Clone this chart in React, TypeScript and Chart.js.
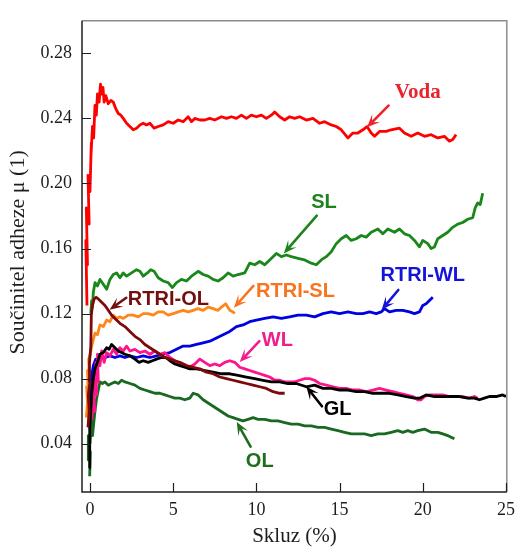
import { useEffect, useRef } from "react";
import { Chart, registerables } from "chart.js";

Chart.register(...registerables);

const xTickValues = [0, 5, 10, 15, 20, 25];
const yTickValues = [0.04, 0.08, 0.12, 0.16, 0.2, 0.24, 0.28];
const xTitle = "Skluz (%)";
const yTitle = "Součinitel adheze μ (1)";

const vodaData: number[][] = [
  [-0.18, 0.125], [-0.25, 0.165], [-0.15, 0.15], [-0.22, 0.185], [-0.05, 0.175], [-0.12, 0.205], [0.0, 0.195],
  [0.08, 0.225], [0.05, 0.215], [0.15, 0.235], [0.22, 0.228], [0.3, 0.248], [0.38, 0.242], [0.45, 0.255],
  [0.55, 0.25], [0.63, 0.261], [0.7, 0.255], [0.78, 0.259], [0.85, 0.25], [0.95, 0.254], [1.1, 0.249],
  [1.25, 0.251], [1.4, 0.25], [1.55, 0.246], [1.7, 0.243], [1.85, 0.242], [2.0, 0.24], [2.2, 0.237],
  [2.4, 0.235], [2.6, 0.233], [2.8, 0.234], [3.0, 0.236], [3.2, 0.237], [3.4, 0.236], [3.6, 0.237],
  [3.85, 0.234], [4.1, 0.235], [4.4, 0.236], [4.7, 0.238], [5.0, 0.237], [5.3, 0.239], [5.6, 0.238],
  [5.9, 0.241], [6.1, 0.238], [6.3, 0.24], [6.6, 0.239], [6.9, 0.239], [7.2, 0.24], [7.5, 0.239],
  [7.9, 0.241], [8.2, 0.24], [8.5, 0.241], [8.8, 0.24], [9.1, 0.242], [9.4, 0.24], [9.7, 0.242],
  [10.0, 0.241], [10.3, 0.242], [10.6, 0.24], [10.9, 0.242], [11.1, 0.244], [11.4, 0.241], [11.7, 0.239],
  [12.0, 0.241], [12.3, 0.24], [12.6, 0.241], [13.0, 0.239], [13.4, 0.24], [13.8, 0.237], [14.1, 0.238],
  [14.5, 0.236], [14.8, 0.235], [15.1, 0.233], [15.5, 0.228], [15.8, 0.231], [16.1, 0.231], [16.4, 0.233],
  [16.65, 0.235], [16.9, 0.231], [17.1, 0.229], [17.4, 0.232], [17.8, 0.232], [18.1, 0.233], [18.6, 0.234],
  [18.9, 0.231], [19.3, 0.229], [19.7, 0.231], [20.1, 0.229], [20.5, 0.23], [20.9, 0.228], [21.3, 0.229],
  [21.6, 0.226], [21.8, 0.227], [22.0, 0.23],
];

const slData: number[][] = [
  [0.05, 0.12], [0.1, 0.128], [0.15, 0.124], [0.2, 0.133], [0.3, 0.139], [0.45, 0.137], [0.6, 0.141],
  [0.8, 0.138], [1.0, 0.135], [1.2, 0.141], [1.4, 0.144], [1.6, 0.145], [1.8, 0.142], [2.0, 0.145],
  [2.2, 0.143], [2.5, 0.145], [2.8, 0.147], [3.0, 0.146], [3.2, 0.143], [3.45, 0.145], [3.65, 0.147],
  [3.85, 0.146], [4.1, 0.142], [4.4, 0.14], [4.7, 0.139], [4.95, 0.136], [5.2, 0.139], [5.5, 0.141],
  [5.8, 0.14], [6.1, 0.143], [6.5, 0.146], [6.8, 0.144], [7.1, 0.143], [7.4, 0.141], [7.7, 0.14],
  [8.0, 0.142], [8.3, 0.145], [8.6, 0.143], [8.9, 0.144], [9.3, 0.145], [9.6, 0.151], [9.9, 0.15],
  [10.2, 0.152], [10.5, 0.15], [10.8, 0.153], [11.2, 0.157], [11.5, 0.155], [11.8, 0.156], [12.1, 0.155],
  [12.5, 0.154], [12.9, 0.153], [13.3, 0.151], [13.6, 0.15], [13.9, 0.153], [14.2, 0.155], [14.5, 0.158],
  [14.8, 0.163], [15.1, 0.166], [15.4, 0.168], [15.7, 0.165], [16.0, 0.166], [16.3, 0.168], [16.6, 0.167],
  [16.9, 0.17], [17.3, 0.172], [17.6, 0.169], [17.9, 0.172], [18.3, 0.17], [18.6, 0.172], [18.9, 0.169],
  [19.2, 0.168], [19.5, 0.165], [19.8, 0.161], [20.0, 0.165], [20.3, 0.163], [20.5, 0.16], [20.7, 0.161],
  [20.9, 0.166], [21.2, 0.168], [21.5, 0.17], [21.8, 0.173], [22.1, 0.175], [22.4, 0.176], [22.7, 0.178],
  [23.0, 0.179], [23.15, 0.185], [23.3, 0.188], [23.45, 0.187], [23.6, 0.194],
];

const rtriSlData: number[][] = [
  [-0.22, 0.056], [-0.15, 0.065], [-0.2, 0.075], [-0.1, 0.07], [-0.15, 0.085], [-0.05, 0.082], [-0.08, 0.092],
  [0.02, 0.095], [0.1, 0.1], [0.2, 0.104], [0.3, 0.108], [0.45, 0.107], [0.6, 0.113], [0.8, 0.112],
  [1.0, 0.116], [1.2, 0.115], [1.4, 0.119], [1.6, 0.117], [1.8, 0.118], [2.0, 0.117], [2.3, 0.119],
  [2.6, 0.119], [2.9, 0.118], [3.2, 0.12], [3.5, 0.12], [3.8, 0.119], [4.1, 0.121], [4.4, 0.121],
  [4.7, 0.119], [5.0, 0.12], [5.3, 0.121], [5.6, 0.122], [5.9, 0.121], [6.2, 0.122], [6.5, 0.123],
  [6.8, 0.122], [7.1, 0.124], [7.4, 0.123], [7.7, 0.122], [7.9, 0.124], [8.15, 0.126], [8.4, 0.122],
  [8.6, 0.121], [8.7, 0.12],
];

const rtriWlData: number[][] = [
  [-0.05, 0.055], [0.0, 0.07], [0.1, 0.082], [0.2, 0.088], [0.35, 0.092], [0.6, 0.092], [0.9, 0.093],
  [1.2, 0.094], [1.5, 0.093], [1.8, 0.094], [2.1, 0.093], [2.4, 0.094], [2.8, 0.093], [3.2, 0.094],
  [3.6, 0.093], [4.0, 0.094], [4.4, 0.095], [4.8, 0.096], [5.2, 0.098], [5.6, 0.1], [6.0, 0.1],
  [6.4, 0.101], [6.8, 0.102], [7.2, 0.103], [7.6, 0.105], [8.0, 0.107], [8.4, 0.109], [8.8, 0.112],
  [9.2, 0.113], [9.6, 0.115], [10.0, 0.116], [10.5, 0.117], [11.0, 0.118], [11.5, 0.117], [12.0, 0.118],
  [12.5, 0.119], [13.0, 0.119], [13.5, 0.118], [14.0, 0.12], [14.5, 0.121], [15.0, 0.12], [15.5, 0.121],
  [16.0, 0.12], [16.4, 0.12], [16.8, 0.121], [17.2, 0.12], [17.5, 0.121], [17.7, 0.123], [18.0, 0.121],
  [18.4, 0.122], [18.8, 0.122], [19.2, 0.121], [19.5, 0.12], [19.8, 0.121], [20.0, 0.125], [20.2, 0.126],
  [20.4, 0.128], [20.6, 0.13],
];

const rtriOlData: number[][] = [
  [-0.12, 0.05], [-0.05, 0.06], [-0.1, 0.07], [0.0, 0.078], [-0.03, 0.09], [0.05, 0.1], [0.08, 0.119],
  [0.15, 0.125], [0.25, 0.129], [0.37, 0.13], [0.5, 0.129], [0.7, 0.127], [0.9, 0.125], [1.1, 0.122],
  [1.3, 0.119], [1.5, 0.117], [1.8, 0.114], [2.1, 0.112], [2.4, 0.109], [2.7, 0.106], [3.0, 0.104],
  [3.3, 0.101], [3.6, 0.099], [3.9, 0.097], [4.2, 0.095], [4.5, 0.093], [4.8, 0.092], [5.1, 0.091],
  [5.4, 0.09], [5.8, 0.088], [6.2, 0.087], [6.6, 0.086], [7.0, 0.084], [7.4, 0.083], [7.8, 0.081],
  [8.2, 0.08], [8.6, 0.079], [9.0, 0.078], [9.4, 0.077], [9.8, 0.076], [10.2, 0.075], [10.6, 0.074],
  [11.0, 0.072], [11.4, 0.071], [11.7, 0.071],
];

const wlData: number[][] = [
  [0.1, 0.055], [0.2, 0.065], [0.15, 0.072], [0.3, 0.06], [0.25, 0.082], [0.4, 0.07], [0.35, 0.09],
  [0.5, 0.078], [0.45, 0.095], [0.6, 0.088], [0.7, 0.097], [0.85, 0.09], [1.0, 0.096], [1.2, 0.094],
  [1.4, 0.098], [1.6, 0.095], [1.8, 0.099], [2.0, 0.097], [2.2, 0.1], [2.4, 0.097], [2.7, 0.098],
  [3.0, 0.096], [3.3, 0.097], [3.6, 0.095], [3.9, 0.097], [4.2, 0.095], [4.5, 0.096], [4.8, 0.093],
  [5.1, 0.091], [5.4, 0.089], [5.7, 0.088], [6.0, 0.087], [6.3, 0.089], [6.6, 0.092], [6.9, 0.09],
  [7.2, 0.088], [7.5, 0.089], [7.8, 0.088], [8.1, 0.09], [8.4, 0.091], [8.7, 0.09], [9.0, 0.087],
  [9.3, 0.086], [9.6, 0.085], [9.9, 0.084], [10.2, 0.083], [10.5, 0.082], [10.8, 0.081], [11.1, 0.079],
  [11.4, 0.079], [11.7, 0.078], [12.0, 0.078], [12.3, 0.078], [12.6, 0.079], [12.9, 0.08], [13.2, 0.08],
  [13.5, 0.079], [13.8, 0.077], [14.2, 0.076], [14.6, 0.075], [15.0, 0.074], [15.4, 0.074], [15.8, 0.073],
  [16.2, 0.073], [16.6, 0.072], [17.0, 0.073], [17.4, 0.074], [17.8, 0.073], [18.2, 0.072], [18.6, 0.071],
  [19.0, 0.07], [19.4, 0.069], [19.7, 0.067], [19.9, 0.067], [20.1, 0.069], [20.4, 0.07], [20.8, 0.07],
  [21.2, 0.07], [21.6, 0.069], [22.0, 0.069], [22.4, 0.069], [22.8, 0.068], [23.1, 0.069], [23.3, 0.068],
];

const glData: number[][] = [
  [-0.05, 0.025], [0.0, 0.04], [-0.03, 0.05], [0.05, 0.06], [0.1, 0.07], [0.2, 0.08], [0.3, 0.086],
  [0.45, 0.09], [0.6, 0.095], [0.8, 0.096], [1.0, 0.099], [1.15, 0.098], [1.3, 0.101], [1.5, 0.099],
  [1.7, 0.097], [1.9, 0.096], [2.1, 0.095], [2.4, 0.094], [2.7, 0.092], [2.95, 0.09], [3.2, 0.091],
  [3.5, 0.09], [3.75, 0.091], [4.0, 0.092], [4.3, 0.093], [4.55, 0.093], [4.8, 0.091], [5.1, 0.089],
  [5.4, 0.088], [5.7, 0.087], [6.0, 0.086], [6.4, 0.086], [6.9, 0.085], [7.4, 0.084], [7.9, 0.083],
  [8.4, 0.083], [8.9, 0.082], [9.4, 0.081], [9.9, 0.08], [10.4, 0.079], [10.9, 0.078], [11.4, 0.078],
  [11.9, 0.077], [12.4, 0.077], [13.0, 0.075], [13.5, 0.076], [14.0, 0.074], [14.5, 0.074], [15.0, 0.073],
  [15.5, 0.073], [16.0, 0.072], [16.5, 0.072], [17.0, 0.071], [17.5, 0.071], [18.0, 0.071], [18.5, 0.07],
  [19.0, 0.069], [19.5, 0.068], [19.8, 0.068], [20.2, 0.07], [20.7, 0.069], [21.2, 0.069], [21.7, 0.069],
  [22.2, 0.069], [22.7, 0.068], [23.1, 0.068], [23.4, 0.067], [23.7, 0.068], [24.0, 0.069], [24.4, 0.069],
  [24.8, 0.07], [25.0, 0.069],
];

const olData: number[][] = [
  [-0.02, 0.02], [0.02, 0.035], [-0.08, 0.03], [-0.1, 0.045], [0.0, 0.04], [0.05, 0.048], [-0.05, 0.052],
  [0.1, 0.05], [0.2, 0.058], [0.15, 0.045], [0.3, 0.06], [0.4, 0.068], [0.5, 0.073], [0.6, 0.078],
  [0.75, 0.077], [0.9, 0.078], [1.1, 0.076], [1.3, 0.077], [1.5, 0.078], [1.7, 0.077], [1.9, 0.079],
  [2.1, 0.078], [2.4, 0.077], [2.7, 0.076], [3.0, 0.074], [3.3, 0.073], [3.6, 0.072], [3.9, 0.071],
  [4.2, 0.071], [4.5, 0.07], [4.8, 0.069], [5.1, 0.068], [5.4, 0.068], [5.7, 0.067], [6.0, 0.068],
  [6.2, 0.071], [6.5, 0.07], [6.8, 0.067], [7.1, 0.065], [7.4, 0.063], [7.7, 0.061], [8.0, 0.059],
  [8.3, 0.057], [8.6, 0.056], [8.9, 0.055], [9.2, 0.054], [9.5, 0.055], [9.8, 0.056], [10.1, 0.055],
  [10.5, 0.055], [10.9, 0.054], [11.3, 0.054], [11.7, 0.053], [12.1, 0.052], [12.5, 0.052], [12.9, 0.051],
  [13.3, 0.051], [13.7, 0.05], [14.1, 0.05], [14.5, 0.049], [14.9, 0.048], [15.3, 0.047], [15.7, 0.046],
  [16.1, 0.046], [16.5, 0.046], [16.9, 0.045], [17.3, 0.046], [17.7, 0.046], [18.1, 0.047], [18.5, 0.048],
  [18.8, 0.047], [19.1, 0.048], [19.4, 0.047], [19.7, 0.048], [20.1, 0.049], [20.5, 0.047], [20.9, 0.047],
  [21.2, 0.046], [21.5, 0.045], [21.7, 0.044], [21.9, 0.043],
];

// series in drawing order: first = on top
const seriesList = [
  { name: "RTRI-OL", data: rtriOlData, color: "rgb(125,10,10)" },
  { name: "GL", data: glData, color: "rgb(0,0,0)" },
  { name: "WL", data: wlData, color: "rgb(255,20,140)" },
  { name: "RTRI-WL", data: rtriWlData, color: "rgb(0,0,225)" },
  { name: "RTRI-SL", data: rtriSlData, color: "rgb(255,135,25)" },
  { name: "OL", data: olData, color: "rgb(25,105,35)" },
  { name: "SL", data: slData, color: "rgb(25,135,25)" },
  { name: "Voda", data: vodaData, color: "rgb(255,0,0)" },
];

// labels with arrows, in data coordinates
const labelNotes = [
  { text: "Voda", at: [19.7, 0.256], from: [17.94, 0.2479], to: [16.65, 0.2345], color: "rgb(235,35,45)", serif: true },
  { text: "SL", at: [14.06, 0.1885], from: [13.63, 0.1802], to: [11.65, 0.157], color: "rgb(30,130,30)", serif: false },
  { text: "RTRI-OL", at: [4.71, 0.1285], from: [2.18, 0.1297], to: [1.18, 0.1224], color: "rgb(115,15,15)", serif: false },
  { text: "RTRI-SL", at: [12.35, 0.1333], from: [9.82, 0.137], to: [8.65, 0.1236], color: "rgb(250,115,30)", serif: false },
  { text: "RTRI-WL", at: [20.0, 0.1436], from: [18.53, 0.1345], to: [17.53, 0.1224], color: "rgb(20,20,215)", serif: false },
  { text: "WL", at: [11.26, 0.1036], from: [10.18, 0.103], to: [9.0, 0.0903], color: "rgb(240,30,140)", serif: false },
  { text: "GL", at: [14.88, 0.0612], from: [13.94, 0.063], to: [13.0, 0.0752], color: "rgb(0,0,0)", serif: false },
  { text: "OL", at: [10.2, 0.0291], from: [9.65, 0.0382], to: [8.82, 0.0533], color: "rgb(30,110,30)", serif: false },
];

const framePlugin = {
  id: "frameAndNotes",
  afterDatasetsDraw(chart: any) {
    const { ctx, chartArea: a, scales } = chart;
    const xs = scales.x;
    const ys = scales.y;
    ctx.save();
    // notes
    for (const n of labelNotes) {
      const fx = xs.getPixelForValue(n.from[0]);
      const fy = ys.getPixelForValue(n.from[1]);
      const tx = xs.getPixelForValue(n.to[0]);
      const ty = ys.getPixelForValue(n.to[1]);
      const ang = Math.atan2(ty - fy, tx - fx);
      const headLen = 11;
      const headW = 5.5;
      const bx = tx - headLen * Math.cos(ang);
      const by = ty - headLen * Math.sin(ang);
      ctx.strokeStyle = n.color;
      ctx.fillStyle = n.color;
      ctx.lineWidth = 2.6;
      ctx.lineCap = "round";
      ctx.beginPath();
      ctx.moveTo(fx, fy);
      ctx.lineTo(bx + 3 * Math.cos(ang), by + 3 * Math.sin(ang));
      ctx.stroke();
      const px = -Math.sin(ang);
      const py = Math.cos(ang);
      ctx.beginPath();
      ctx.moveTo(tx, ty);
      ctx.lineTo(bx + headW * px - 2 * Math.cos(ang), by + headW * py - 2 * Math.sin(ang));
      ctx.lineTo(bx + 4 * Math.cos(ang), by + 4 * Math.sin(ang));
      ctx.lineTo(bx - headW * px - 2 * Math.cos(ang), by - headW * py - 2 * Math.sin(ang));
      ctx.closePath();
      ctx.fill();
      ctx.font = n.serif ? "bold 21px 'Liberation Serif'" : "bold 20px 'Liberation Sans'";
      ctx.textAlign = "center";
      ctx.textBaseline = "middle";
      ctx.fillText(n.text, xs.getPixelForValue(n.at[0]), ys.getPixelForValue(n.at[1]));
    }
    // frame
    ctx.lineCap = "butt";
    ctx.lineWidth = 1.5;
    ctx.strokeStyle = "rgb(140,140,140)";
    ctx.beginPath();
    ctx.moveTo(a.left, a.top);
    ctx.lineTo(a.right, a.top);
    ctx.lineTo(a.right, a.bottom);
    ctx.stroke();
    ctx.strokeStyle = "rgb(30,30,30)";
    ctx.beginPath();
    ctx.moveTo(a.left, a.top);
    ctx.lineTo(a.left, a.bottom);
    ctx.lineTo(a.right, a.bottom);
    ctx.stroke();
    ctx.lineWidth = 1.2;
    ctx.beginPath();
    for (const v of yTickValues) {
      const y = Math.round(ys.getPixelForValue(v)) + 0.5;
      ctx.moveTo(a.left, y);
      ctx.lineTo(a.left + 9, y);
    }
    for (const v of xTickValues) {
      const x = Math.round(xs.getPixelForValue(v)) + 0.5;
      ctx.moveTo(x, a.bottom);
      ctx.lineTo(x, a.bottom - 9);
    }
    ctx.stroke();
    // axis titles
    ctx.fillStyle = "rgb(30,30,30)";
    ctx.textAlign = "center";
    ctx.textBaseline = "middle";
    ctx.font = "21px 'Liberation Serif'";
    ctx.fillText(xTitle, (a.left + a.right) / 2, 536);
    ctx.font = "22px 'Liberation Serif'";
    ctx.translate(18, (a.top + a.bottom) / 2 - 4);
    ctx.rotate(-Math.PI / 2);
    ctx.fillText(yTitle, 0, 0);
    ctx.restore();
  },
};

export default function App() {
  const ref = useRef<HTMLCanvasElement | null>(null);
  useEffect(() => {
    if (!ref.current) return;
    const chart = new Chart(ref.current, {
      type: "line",
      data: {
        datasets: seriesList.map((s) => ({
          label: s.name,
          data: s.data.map(([x, y]) => ({ x, y })),
          borderColor: s.color,
          backgroundColor: s.color,
          borderWidth: 2.8,
          pointRadius: 0,
          tension: 0,
          fill: false,
          borderJoinStyle: "round" as const,
        })),
      },
      options: {
        animation: false,
        responsive: false,
        events: [],
        layout: { padding: { top: 14, right: 6, left: 0, bottom: 0 } },
        plugins: { legend: { display: false }, tooltip: { enabled: false } },
        scales: {
          x: {
            type: "linear",
            min: -0.48,
            max: 25.05,
            grid: { display: false, drawTicks: false },
            border: { display: false },
            afterBuildTicks: (ax: any) => {
              ax.ticks = xTickValues.map((v) => ({ value: v }));
            },
            afterFit: (ax: any) => {
              ax.height = 57;
            },
            ticks: {
              padding: 7,
              color: "rgb(30,30,30)",
              font: { family: "'Liberation Serif'", size: 18 },
              callback: (v: any) => String(v),
            },
          },
          y: {
            type: "linear",
            min: 0.0103,
            max: 0.3,
            grid: { display: false, drawTicks: false },
            border: { display: false },
            afterBuildTicks: (ax: any) => {
              ax.ticks = yTickValues.map((v) => ({ value: v }));
            },
            afterFit: (ax: any) => {
              ax.width = 82;
            },
            ticks: {
              padding: 10,
              color: "rgb(30,30,30)",
              font: { family: "'Liberation Serif'", size: 18 },
              callback: (v: any) => Number(v).toFixed(2),
            },
          },
        },
      },
      plugins: [framePlugin],
    });
    return () => chart.destroy();
  }, []);
  return (
    <div style={{ position: "fixed", left: 0, top: 0, width: 522, height: 549, background: "#fff" }}>
      <canvas ref={ref} width={522} height={549} style={{ display: "block", width: 522, height: 549 }} />
    </div>
  );
}
